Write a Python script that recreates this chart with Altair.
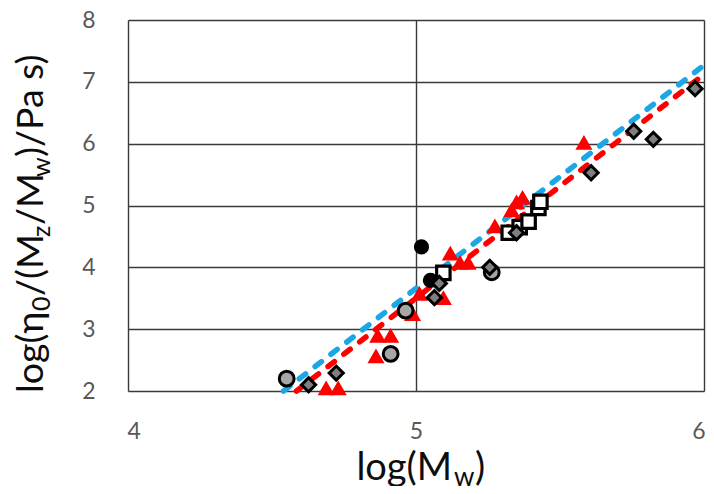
import altair as alt
import pandas as pd

# ---- data ----
circle_x = [4.551, 4.912, 4.964, 5.263]
circle_y = [2.20, 2.60, 3.30, 3.92]

black_x = [5.019, 5.050]
black_y = [4.33, 3.79]

square_x = [5.095, 5.322, 5.360, 5.391, 5.425, 5.432]
square_y = [3.91, 4.56, 4.65, 4.74, 4.96, 5.06]

diamond_x = [4.627, 4.723, 5.064, 5.081, 5.256, 5.349, 5.608, 5.756, 5.824, 5.969]
diamond_y = [2.10, 2.29, 3.51, 3.74, 4.00, 4.56, 5.53, 6.20, 6.07, 6.89]

tri_x = [4.688, 4.730, 4.861, 4.867, 4.912, 4.988, 5.012, 5.095, 5.119, 5.153,
         5.181, 5.274, 5.332, 5.349, 5.370, 5.583]
tri_y = [2.05, 2.05, 2.57, 2.90, 2.90, 3.25, 3.58, 3.51, 4.23, 4.08,
         4.08, 4.67, 4.93, 5.06, 5.13, 6.02]

blue_fit_x = [4.54, 6.0]
blue_fit_y = [2.0, 7.27]
red_fit_x = [4.585, 6.0]
red_fit_y = [2.0, 7.12]

x_ticks = [4, 5, 6]
y_ticks = [2, 3, 4, 5, 6, 7, 8]

FONT = "Lato"

xs = alt.Scale(domain=[4, 6], nice=False, zero=False)
ys = alt.Scale(domain=[2, 8], nice=False, zero=False)

x_axis = alt.Axis(values=x_ticks, labelExpr="'' + datum.value", title=None,
                  domain=False, ticks=False,
                  labelPadding=29, labelFontSize=23, labelColor="#595959",
                  labelFont=FONT, grid=True, gridColor="#3a3a3a", gridWidth=1.4,
                  labelFlush=True, labelFlushOffset=1, labelOverlap=False)
y_axis = alt.Axis(values=y_ticks, labelExpr="'' + datum.value", title=None,
                  domain=False, ticks=False,
                  labelPadding=33, labelFontSize=23, labelColor="#595959",
                  labelFont=FONT, grid=True, gridColor="#3a3a3a", gridWidth=1.4,
                  labelFlush=False, labelOverlap=False)


def enc(ch):
    return ch.encode(
        x=alt.X("x:Q", scale=xs, axis=x_axis),
        y=alt.Y("y:Q", scale=ys, axis=y_axis),
    )


def df(xv, yv):
    return pd.DataFrame({"x": xv, "y": yv})


blue_line = enc(alt.Chart(df(blue_fit_x, blue_fit_y)).mark_line(
    color="#1aa7e6", strokeWidth=5.5, strokeDash=[8, 12], strokeCap="round"))
red_line = enc(alt.Chart(df(red_fit_x, red_fit_y)).mark_line(
    color="#ff0000", strokeWidth=5.5, strokeDash=[8, 12], strokeCap="round"))

triangles = enc(alt.Chart(df(tri_x, tri_y)).mark_point(
    shape="triangle-up", filled=True, fill="#ff0000", color="#ff0000",
    strokeWidth=0, size=290, opacity=1))
circles = enc(alt.Chart(df(circle_x, circle_y)).mark_point(
    shape="circle", filled=True, fill="#a6a6a6", stroke="#000000",
    strokeWidth=3, size=220, opacity=1))
blacks = enc(alt.Chart(df(black_x, black_y)).mark_point(
    shape="circle", filled=True, fill="#000000", color="#000000",
    strokeWidth=0, size=230, opacity=1))
squares = enc(alt.Chart(df(square_x, square_y)).mark_point(
    shape="square", filled=True, fill="#ffffff", stroke="#000000",
    strokeWidth=3.2, size=180, opacity=1))
diamonds = enc(alt.Chart(df(diamond_x, diamond_y)).mark_point(
    shape="diamond", filled=True, fill="#7f7f7f", stroke="#000000",
    strokeWidth=3, size=200, opacity=1))

# ---- axis titles built from pieces (for subscripts) ----
MAIN = 38
SUB = 26
YMAIN = 37.5
YSUB = 25
title_parts = [
    # text, x, y, size, angle, align
    ("log(M", 324, 460, MAIN, 0, "right"),
    ("w", 326, 466, SUB, 0, "left"),
    (")", 347, 460, MAIN, 0, "left"),
    ("log(η", -85, 373, YMAIN, 270, "left"),
    ("0", -78, 291, YSUB, 270, "left"),
    ("/(M", -85, 276, YMAIN, 270, "left"),
    ("z", -78, 217, YSUB, 270, "left"),
    ("/M", -85, 205, YMAIN, 270, "left"),
    ("w", -78, 157, YSUB, 270, "left"),
    (")/Pa s)", -85, 137, YMAIN, 270, "left"),
]

title_layers = []
for t, px, py, sz, ang, al in title_parts:
    title_layers.append(
        alt.Chart(pd.DataFrame({"t": [t]})).mark_text(
            font=FONT, fontSize=sz, angle=ang, align=al, baseline="alphabetic",
            color="#0d0d0d"
        ).encode(x=alt.value(px), y=alt.value(py), text="t:N")
    )

chart = alt.layer(
    blue_line, red_line, triangles, circles, blacks, squares, diamonds,
    *title_layers
).properties(
    width=576, height=371,
    autosize=alt.AutoSizeParams(type="none"),
    padding={"left": 120, "top": 12, "right": 2, "bottom": 95},
).configure_view(
    stroke="#000000", strokeWidth=2.6
).configure(background="white")

chart.save("out.html", embed_options={"renderer": "svg", "actions": False})
